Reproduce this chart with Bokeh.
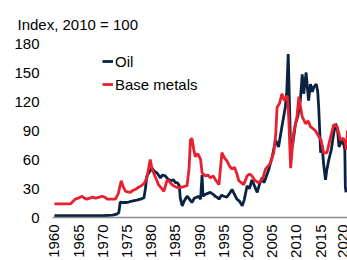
import math
from bokeh.plotting import figure
from bokeh.models import Range1d, FixedTicker
from bokeh.embed import file_html
from bokeh.resources import INLINE

# Oil price index (2010 = 100)
oil_years = [1960.0, 1962.0, 1965.0, 1968.0, 1970.0, 1972.0, 1972.9, 1973.3, 1973.6, 1974.2,
             1975.0, 1976.0, 1977.0, 1977.8, 1978.5, 1978.8, 1979.1, 1979.6, 1980.2, 1980.6,
             1981.2, 1981.5, 1981.9, 1982.3, 1982.9, 1983.4, 1984.0, 1984.6, 1985.0, 1985.4,
             1985.8, 1986.0, 1986.4, 1986.8, 1987.4, 1987.9, 1988.4, 1988.9, 1989.4, 1989.8,
             1990.2, 1990.5, 1990.7, 1991.2, 1991.7, 1992.2, 1992.8, 1993.2, 1993.6, 1994.0,
             1994.5, 1995.0, 1995.6, 1996.2, 1996.7, 1997.2, 1997.7, 1998.2, 1998.8, 1999.2,
             1999.8, 2000.3, 2000.8, 2001.3, 2001.9, 2002.4, 2002.9, 2003.3, 2003.8, 2004.3,
             2005.0, 2005.7, 2006.3, 2007.0, 2007.7, 2008.0, 2008.3, 2008.6, 2008.8, 2009.2,
             2009.8, 2010.3, 2010.8, 2011.2, 2011.5, 2012.0, 2012.5, 2012.9, 2013.3, 2013.6,
             2014.1, 2014.4, 2014.6, 2015.0, 2015.3, 2015.6, 2016.0, 2016.3, 2016.7, 2017.2,
             2017.7, 2018.1, 2018.5, 2018.8, 2019.4, 2019.8, 2020.0, 2020.1, 2020.25]
oil_values = [2.0, 2.0, 1.8, 1.8, 1.8, 2.5, 3.5, 5, 16, 15.5,
              15.5, 17, 18, 19, 20.5, 30, 43, 47, 51, 48,
              46, 44, 41, 44, 43, 40, 38, 39, 36, 36,
              33, 20, 12, 17, 22, 19, 15.5, 20, 21, 22,
              19, 44, 22, 24, 25, 26, 24, 22, 21, 19,
              23, 22, 21, 25, 29, 24, 19, 17, 12, 18,
              32.5, 30, 39, 33, 26, 35, 41, 36, 43, 50,
              63, 80, 73, 94, 114, 130, 169, 110, 70, 75,
              97, 105, 121, 148, 128, 150, 121, 138, 130, 135,
              138, 130, 114, 67, 75, 56, 39, 50, 60, 70,
              87, 97, 90, 73, 80, 75, 70, 32, 26]

# Base metals price index (2010 = 100)
metal_years = [1960.0, 1961.5, 1963.3, 1964.3, 1964.9, 1965.7, 1966.2, 1966.7, 1967.3, 1967.9,
               1968.5, 1969.3, 1969.9, 1970.4, 1970.9, 1971.8, 1972.6, 1973.2, 1973.8, 1974.2,
               1974.7, 1975.7, 1976.2, 1976.7, 1977.3, 1977.8, 1978.5, 1979.1, 1979.8, 1980.1,
               1980.5, 1981.0, 1981.5, 1982.0, 1982.6, 1983.3, 1983.8, 1984.3, 1984.9, 1985.4,
               1986.0, 1986.7, 1987.4, 1987.8, 1988.1, 1988.4, 1988.8, 1989.1, 1989.6, 1990.2,
               1990.5, 1991.2, 1991.7, 1992.2, 1992.8, 1993.4, 1994.0, 1994.6, 1995.1, 1995.7,
               1996.2, 1996.7, 1997.2, 1997.7, 1998.1, 1998.6, 1999.1, 1999.8, 2000.3, 2000.8,
               2001.5, 2002.2, 2003.0, 2003.6, 2004.6, 2005.3, 2005.7, 2006.0, 2006.5, 2007.0,
               2007.5, 2008.1, 2008.4, 2008.8, 2009.4, 2010.1, 2010.5, 2011.2, 2011.9, 2012.4,
               2012.9, 2013.9, 2014.6, 2015.1, 2015.6, 2016.3, 2016.9, 2017.7, 2018.4, 2019.1,
               2019.7, 2020.1, 2020.3, 2020.55]
metal_values = [14, 14, 14, 19, 20, 22, 20, 19, 20, 21,
                20, 21, 22, 21, 19, 19, 19, 25, 38, 32,
                27, 26, 28, 29, 31, 32.5, 35, 41, 60, 52,
                46, 40, 34, 31, 27, 39, 37, 34, 32, 31,
                31, 32, 33, 50, 80, 82, 70, 63, 66, 60,
                46, 43, 44, 41, 43, 38, 34, 67, 62, 58,
                53, 50, 52, 45, 38, 36, 34, 43, 45, 43,
                38, 36, 40, 50, 56, 67, 85, 114, 118, 128,
                121, 126, 104, 51, 87, 104, 125, 104, 97, 100,
                94, 90, 84, 80, 67, 67, 80, 96, 94, 80,
                82, 77, 70, 90]

x_ticks = [1960, 1965, 1970, 1975, 1980, 1985, 1990, 1995, 2000, 2005, 2010, 2015, 2020]
y_ticks = [0, 30, 60, 90, 120, 150, 180]

FONT = "Liberation Sans"
NAVY = "#0b2342"
RED = "#e8202f"

p = figure(width=347, height=260,
           x_range=Range1d(1959.6, 2020.55), y_range=Range1d(0, 180),
           output_backend="svg", toolbar_location=None,
           min_border_left=52, min_border_right=0, min_border_top=43, min_border_bottom=0,
           title="Index, 2010 = 100")

p.title.text_font = FONT
p.title.text_font_size = "15px"
p.title.text_font_style = "normal"
p.title.text_color = "#000000"
p.title.align = "left"
p.title.offset = -35
p.title.standoff = 22

p.line(oil_years, oil_values, line_color=NAVY, line_width=2.8, legend_label="Oil")
p.line(metal_years, metal_values, line_color=RED, line_width=2.8, legend_label="Base metals")

p.grid.visible = False
p.outline_line_color = None
p.background_fill_color = "white"
p.border_fill_color = "white"

p.xaxis.ticker = FixedTicker(ticks=x_ticks)
p.yaxis.ticker = FixedTicker(ticks=y_ticks)

p.yaxis.axis_line_color = None
p.yaxis.major_tick_line_color = None
p.yaxis.minor_tick_line_color = None
p.yaxis.major_tick_out = 0
p.yaxis.major_label_standoff = 13

p.xaxis.axis_line_color = "#8c8c8c"
p.xaxis.axis_line_width = 1.5
p.xaxis.major_tick_line_color = None
p.xaxis.minor_tick_line_color = None
p.xaxis.major_tick_out = 0
p.xaxis.major_label_standoff = 7
p.xaxis.major_label_orientation = math.pi / 2

for ax in (p.xaxis, p.yaxis):
    ax.major_label_text_font = FONT
    ax.major_label_text_font_size = "15px"
    ax.major_label_text_color = "#000000"

leg = p.legend[0]
leg.location = (50, 122)
leg.background_fill_alpha = 0
leg.border_line_alpha = 0
leg.padding = 0
leg.margin = 0
leg.spacing = 1
leg.glyph_width = 11
leg.glyph_height = 22
leg.label_height = 22
leg.label_standoff = 2
leg.label_text_font = FONT
leg.label_text_font_size = "15px"
leg.label_text_color = "#000000"

open("out.html", "w").write(file_html(p, INLINE))
